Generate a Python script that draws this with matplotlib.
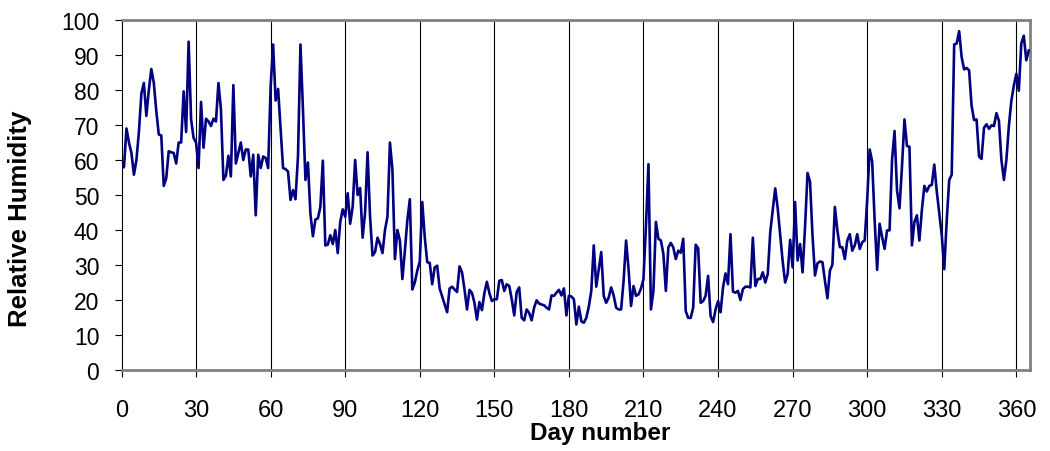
#!/usr/bin/env python3
"""Daily relative humidity over one year."""

import matplotlib

matplotlib.use("Agg")
import matplotlib.pyplot as plt
import numpy as np

plt.rcParams["font.family"] = ["Liberation Sans", "DejaVu Sans"]

OUT_PNG = "out.png"

# daily mean relative humidity (%), day 0 .. 365
HUMIDITY = [
    57.7, 58, 69, 65, 62, 55.8, 60, 68, 79, 82,
    72.6, 80, 86, 82, 74, 67.3, 67, 52.6, 54.8, 62.5,
    62.2, 62, 59, 65, 65, 79.6, 68, 93.8, 71.6, 66.3,
    65, 57.7, 76.6, 63.5, 71.8, 71, 69.7, 71.8, 71, 82,
    74.5, 54.3, 55.5, 61.2, 55.3, 81.4, 59, 62, 65, 60,
    63, 63, 55.3, 61.5, 44.2, 61.5, 57.7, 61, 60.6, 57.7,
    81, 93, 77, 80.3, 68.8, 57.7, 57.4, 56.7, 48.6, 51.4,
    48.8, 61, 93, 74.5, 54.3, 59.3, 44.7, 38.2, 43, 43.3,
    46.6, 59.8, 35.6, 35.8, 38.5, 36, 40, 33.4, 42.3, 45.9,
    43.8, 50.5, 41.8, 46.6, 60, 50, 52, 37.8, 45, 62.2,
    43.8, 32.7, 33.7, 37.8, 36, 33.4, 40, 43.8, 65, 57.2,
    31.7, 40, 37, 26, 34, 42.8, 48.8, 23, 25, 28.4,
    31, 48, 38, 30.8, 30.6, 24.5, 29.3, 29.8, 23.3, 21,
    18.8, 16.5, 23.3, 23.8, 23, 22.3, 29.6, 27.9, 23, 17.3,
    22.9, 22, 19.2, 14.4, 19.4, 17.1, 22, 25.2, 22, 19.7,
    20.2, 20.2, 25.5, 25.7, 22.6, 24.5, 24, 20.2, 15.6, 22.3,
    23.6, 14.9, 14.2, 17.3, 16.3, 14.2, 17.8, 19.9, 19, 18.7,
    18.5, 17.8, 17.3, 21.3, 21.2, 22.1, 22.9, 21.3, 23.3, 15.6,
    21.2, 21, 20.2, 13, 18.1, 13.9, 13.5, 14.9, 18.1, 22.6,
    35.6, 23.8, 28.8, 33.7, 21.2, 19.2, 20.7, 23.6, 21.3, 17.8,
    17.3, 17.3, 25.5, 37, 28.8, 18.3, 24, 21.2, 21.6, 23.3,
    26, 41.3, 58.8, 17.3, 22.6, 42.3, 37.5, 37, 33.2, 22.6,
    35, 36.3, 35, 31.7, 34.1, 33.5, 37.5, 16.8, 14.9, 14.9,
    17.8, 35.8, 34.8, 19.2, 19.7, 21.2, 26.9, 15.4, 13.7, 17.3,
    19.7, 16.5, 23.6, 27.6, 24.5, 38.8, 22.4, 22.1, 22.6, 20,
    23.1, 23.8, 23.8, 23.6, 37.8, 24, 26, 26, 27.9, 25,
    27.4, 39.4, 45.7, 51.9, 46.2, 38.5, 31, 25, 27.4, 37.2,
    29.3, 48, 31.3, 36, 27.9, 40.9, 56.3, 53.8, 38.5, 27,
    30.5, 31, 30.8, 25.5, 20.5, 28.4, 30.1, 46.6, 39.9, 35.1,
    35.1, 31.7, 37, 38.8, 34.1, 35.6, 38.8, 34.6, 36.5, 37,
    48.6, 63, 59.6, 42.8, 28.6, 41.8, 38, 34.6, 39.9, 39.9,
    60, 68.3, 51.4, 46.2, 58.2, 71.6, 64, 63.8, 35.6, 42.3,
    44.2, 37, 45.7, 52.6, 51, 52.6, 52.9, 58.7, 51, 44.7,
    38.5, 28.8, 42.8, 54.3, 55.8, 93, 93.3, 96.8, 89.4, 85.9,
    86.3, 85.6, 75.5, 71.4, 71.6, 61, 60.3, 69.2, 70.2, 68.9,
    69.9, 69.7, 73.4, 71.2, 60, 54.3, 60, 69.7, 76.9, 81.3,
    84.6, 79.8, 93.3, 95.5, 88.5, 91.3,
]
DAYS = list(range(len(HUMIDITY)))

X_TICKS = list(range(0, 361, 30))
Y_TICKS = list(range(0, 101, 10))
MONTH_LINES = list(range(30, 361, 30))

LINE_COLOR = "#000080"
BORDER_COLOR = "#808080"


def plot() -> None:
    fig = plt.figure(figsize=(10.5, 4.52), dpi=100)
    ax = fig.add_axes([121.5 / 1050, 1 - 371 / 452, 908.5 / 1050, 350 / 452])

    for day in MONTH_LINES:
        ax.axvline(day, color="black", linewidth=0.8, zorder=1)

    ax.plot(DAYS, HUMIDITY, color=LINE_COLOR, linewidth=1.9, zorder=3,
            solid_joinstyle="round")

    ax.set_xlim(0, 365.5)
    ax.set_ylim(0, 100)
    ax.set_xticks(X_TICKS)
    ax.set_yticks(Y_TICKS)
    ax.tick_params(axis="x", direction="out", length=5, width=0.8, pad=16, labelsize=17)
    ax.tick_params(axis="y", direction="out", length=5, width=0.8, pad=11, labelsize=16.5)

    for side in ("top", "right", "bottom"):
        ax.spines[side].set_color(BORDER_COLOR)
        ax.spines[side].set_linewidth(2.0)
    ax.spines["left"].set_color("black")
    ax.spines["left"].set_linewidth(0.8)

    fig.text(600 / 1050, 1 - 434 / 452, "Day number", ha="center", va="center",
             fontsize=17.5, fontweight="bold")
    fig.text(20 / 1050, 1 - 219 / 452, "Relative Humidity", ha="center", va="center",
             rotation=90, fontsize=18.5, fontweight="bold")

    fig.savefig(OUT_PNG, dpi=100)
    plt.close(fig)


def main() -> None:
    plot()


if __name__ == "__main__":
    main()
